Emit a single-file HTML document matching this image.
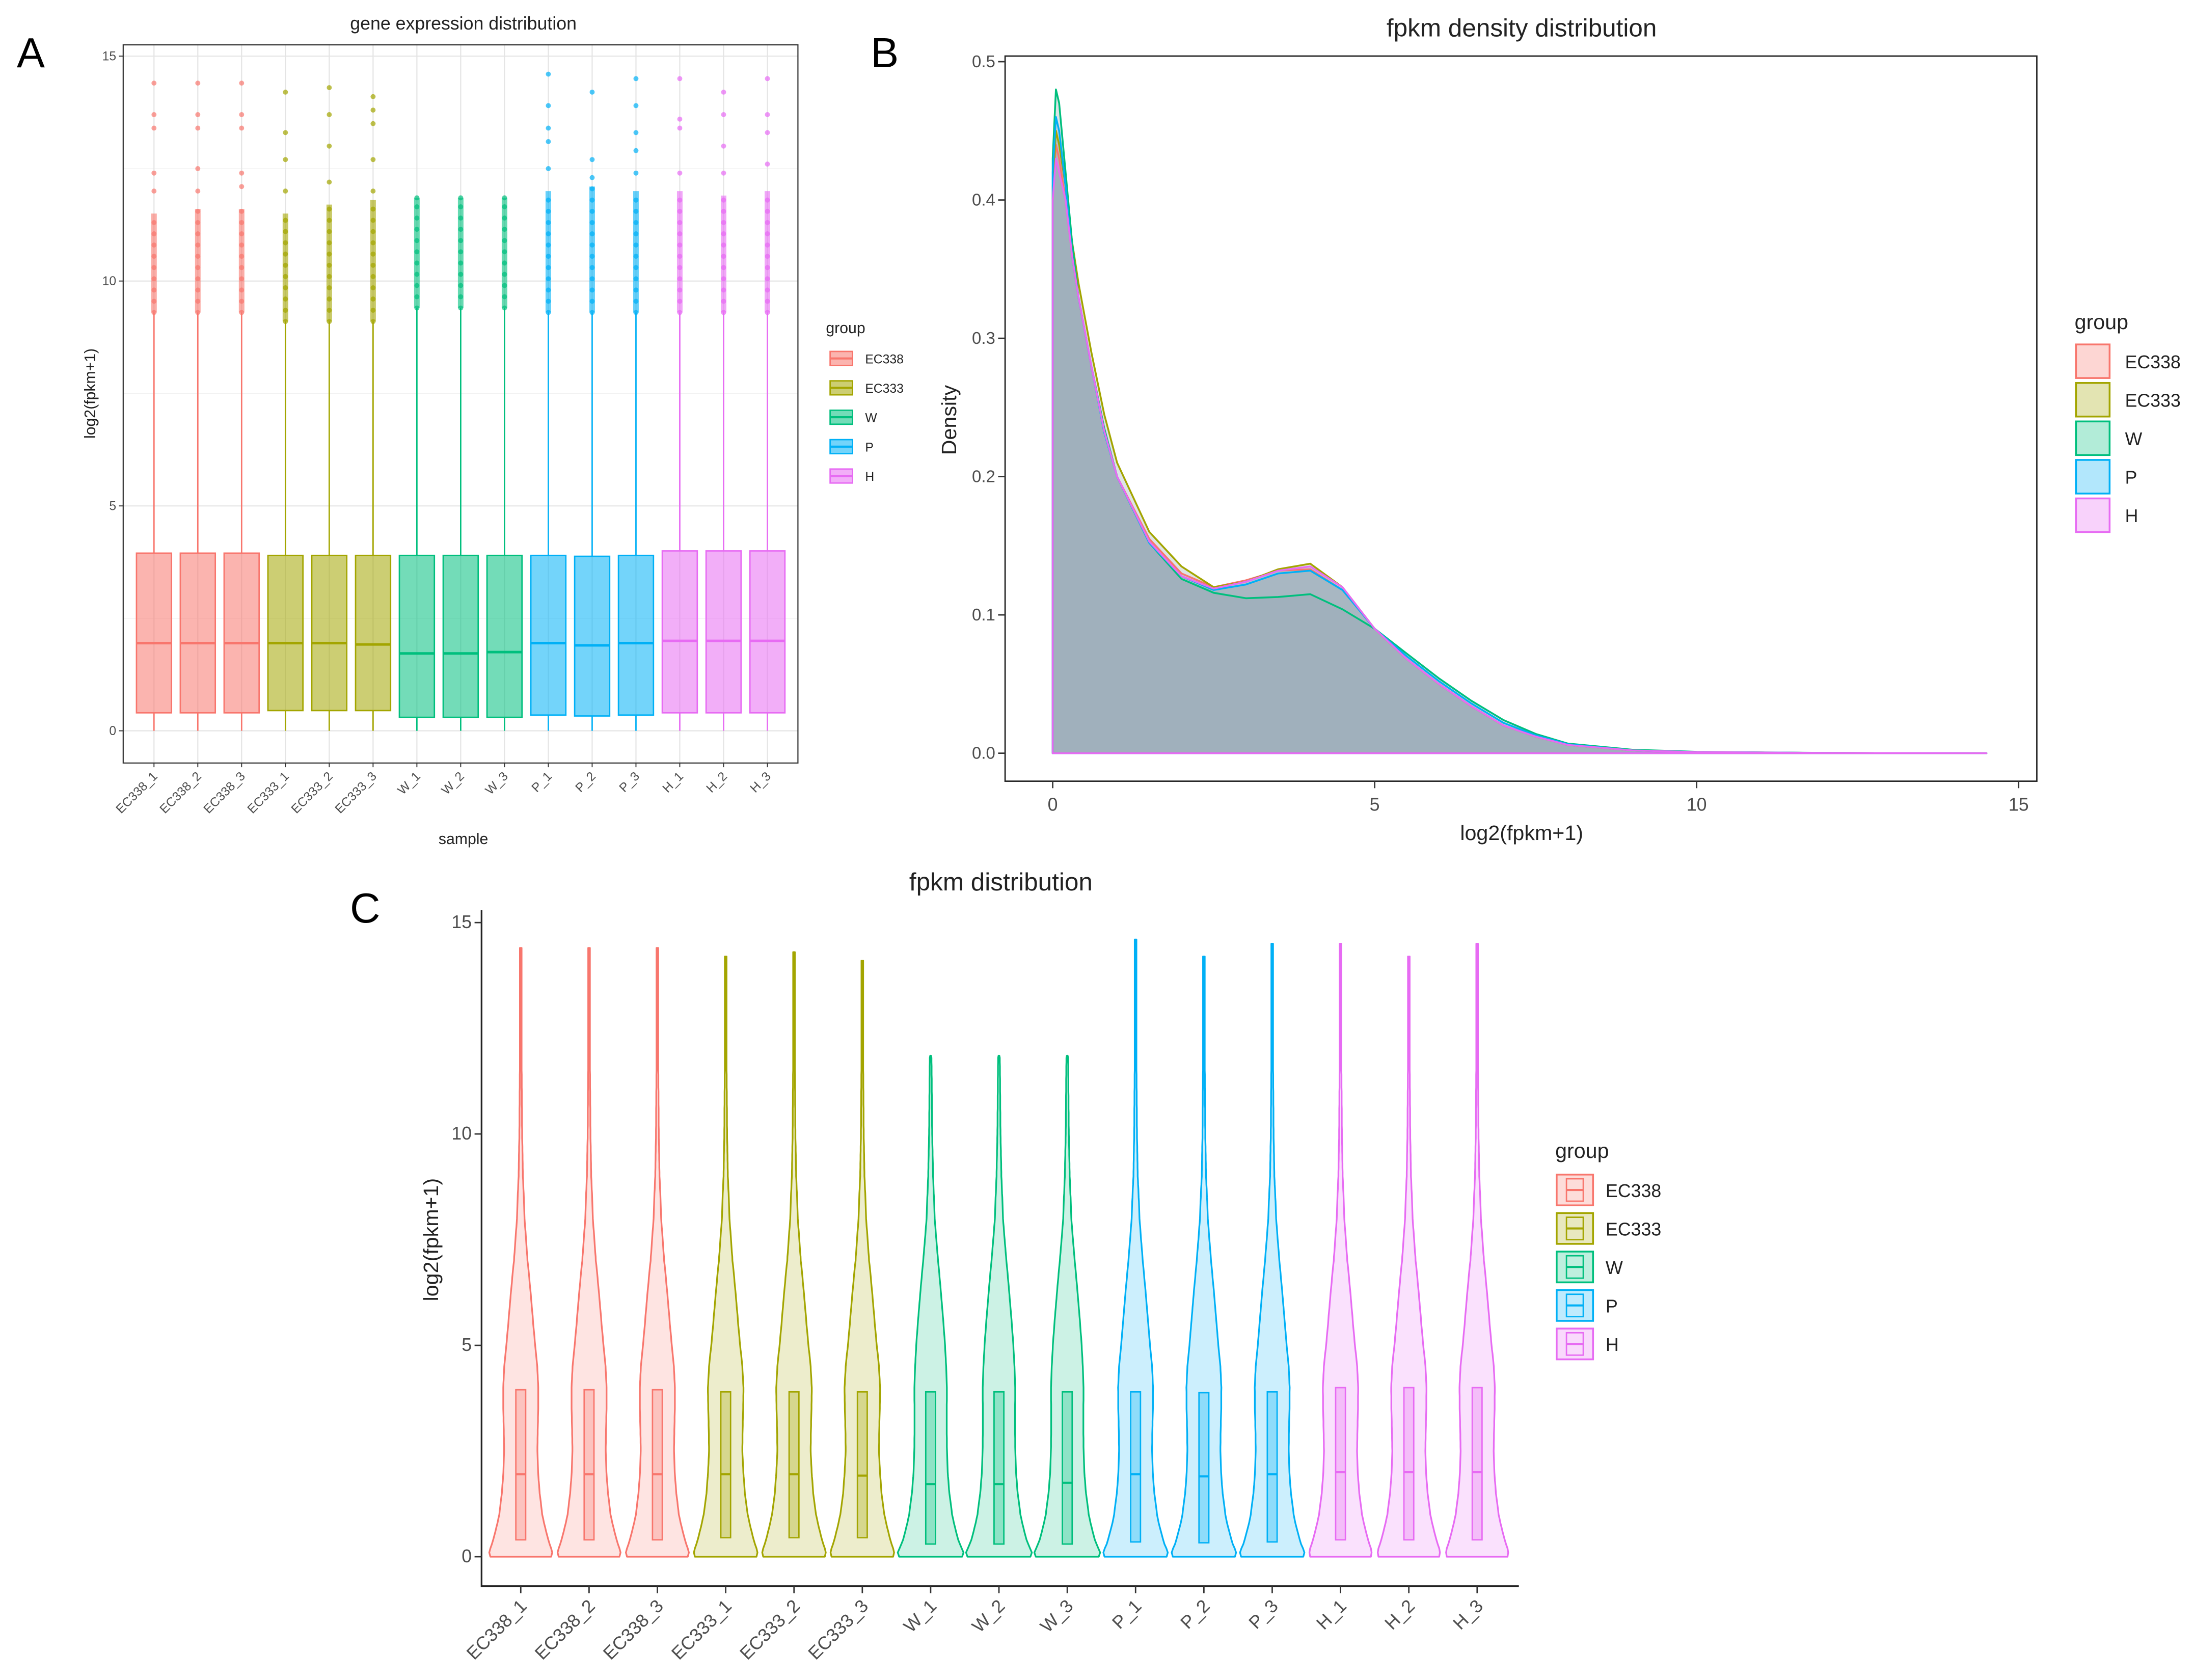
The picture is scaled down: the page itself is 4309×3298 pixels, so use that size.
<!DOCTYPE html>
<html><head><meta charset="utf-8"><style>
html,body{margin:0;padding:0;background:#fff}
svg{display:block}
text{font-family:"Liberation Sans",sans-serif}
</style></head><body>
<svg id="fig" xmlns="http://www.w3.org/2000/svg" width="4309" height="3298" viewBox="0 0 1568 1200">
<rect width="1568" height="1200" fill="#fff"/>
<g id="pa"></g>
<g id="pb"></g>
<g id="pc"></g>
</svg>
<script>
const samples=["EC338_1","EC338_2","EC338_3","EC333_1","EC333_2","EC333_3","W_1","W_2","W_3","P_1","P_2","P_3","H_1","H_2","H_3"];
const sampleGroup=[0,0,0,1,1,1,2,2,2,3,3,3,4,4,4];
const groups=["EC338","EC333","W","P","H"];
const colors=["#F8766D","#A3A500","#00BF7D","#00B0F6","#E76BF3"];
const q1=[0.4,0.4,0.4,0.45,0.45,0.45,0.3,0.3,0.3,0.35,0.33,0.35,0.4,0.4,0.4];
const med=[1.95,1.95,1.95,1.95,1.95,1.92,1.72,1.72,1.75,1.95,1.9,1.95,2.0,2.0,2.0];
const q3=[3.95,3.95,3.95,3.9,3.9,3.9,3.9,3.9,3.9,3.9,3.88,3.9,4.0,4.0,4.0];
const whiskerHi=[9.3,9.3,9.3,9.1,9.1,9.1,9.4,9.4,9.4,9.3,9.3,9.3,9.3,9.3,9.3];
const maxVal=[14.4,14.4,14.4,14.2,14.3,14.1,11.85,11.85,11.85,14.6,14.2,14.5,14.5,14.2,14.5];
const outlierMid=[11.5,11.6,11.6,11.5,11.7,11.8,11.85,11.85,11.85,12.0,12.1,12.0,12.0,11.9,12.0];
const sparseOutliers=[[12.0,12.4,13.4,13.7],[12.0,12.5,13.4,13.7],[12.1,12.4,13.4,13.7],[12.0,12.7,13.3],[12.2,13.0,13.7],[12.0,12.7,13.5,13.8],[],[],[],[12.5,13.1,13.4,13.9],[12.3,12.7],[12.4,12.9,13.3,13.9],[12.4,13.4,13.6],[12.4,13.0,13.7],[12.6,13.3,13.7]];
const densX=[0,0.05,0.1,0.2,0.3,0.4,0.6,0.8,1,1.5,2,2.5,3,3.5,4,4.5,5,5.5,6,6.5,7,7.5,8,9,10,12,14.5];
const densEC338=[0.40,0.44,0.43,0.40,0.36,0.33,0.28,0.235,0.20,0.155,0.13,0.12,0.125,0.132,0.133,0.118,0.09,0.068,0.05,0.034,0.02,0.012,0.006,0.002,0.0008,0.0002,0];
const densEC333=[0.41,0.45,0.44,0.41,0.37,0.34,0.29,0.245,0.21,0.16,0.135,0.12,0.124,0.133,0.137,0.12,0.09,0.068,0.05,0.034,0.02,0.012,0.006,0.002,0.0008,0.0002,0];
const densW=[0.43,0.48,0.47,0.42,0.37,0.33,0.28,0.235,0.20,0.152,0.126,0.116,0.112,0.113,0.115,0.104,0.09,0.072,0.054,0.038,0.024,0.014,0.007,0.0025,0.001,0.0002,0];
const densP=[0.42,0.46,0.45,0.41,0.36,0.33,0.28,0.232,0.20,0.152,0.128,0.118,0.122,0.13,0.132,0.118,0.09,0.07,0.052,0.036,0.022,0.013,0.0065,0.002,0.0008,0.0002,0];
const densH=[0.40,0.43,0.42,0.40,0.36,0.33,0.28,0.233,0.20,0.153,0.128,0.119,0.124,0.132,0.135,0.12,0.09,0.068,0.05,0.034,0.02,0.012,0.006,0.002,0.0008,0.0002,0];
const densAll=[densEC338,densEC333,densW,densP,densH];
const yTicks=[0,5,10,15];
const bXTicks=[0,5,10,15];
const bYTicks=[0,0.1,0.2,0.3,0.4,0.5];

const NS="http://www.w3.org/2000/svg";
function mk(parent,tag,attrs,txt){const e=document.createElementNS(NS,tag);for(const k in attrs)e.setAttribute(k,attrs[k]);if(txt!==undefined)e.textContent=txt;parent.appendChild(e);return e;}

// ---------- Panel A ----------
const A=document.getElementById('pa');
const axL=88,axR=570,axT=32,axB=545;
const ayA=v=>522-v*32.13;
const axA=i=>110+i*31.3;
let t=mk(A,'text',{x:12,y:48,'font-size':30},'A');

t=mk(A,'text',{x:331,y:21,'font-size':13,'text-anchor':'middle',fill:'#222'},'gene expression distribution');

// grid
for(let v=0;v<=15;v+=2.5){let g=mk(A,'line',{x1:axL,x2:axR,y1:ayA(v),y2:ayA(v),stroke:v%5==0?'#e4e4e4':'#f2f2f2','stroke-width':v%5==0?0.8:0.5});}
samples.forEach((s,i)=>{let g=mk(A,'line',{x1:axA(i),x2:axA(i),y1:axT,y2:axB,stroke:'#e4e4e4','stroke-width':0.8});});
let fr=mk(A,'rect',{x:axL,y:axT,width:axR-axL,height:axB-axT,fill:'none',stroke:'#333','stroke-width':0.8});

yTicks.forEach(v=>{let l=mk(A,'line',{x1:axL-3,x2:axL,y1:ayA(v),y2:ayA(v),stroke:'#333','stroke-width':0.7});
 let tx=mk(A,'text',{x:axL-5,y:ayA(v)+3,'font-size':9,'text-anchor':'end',fill:'#4d4d4d'},v);});
t=mk(A,'text',{x:0,y:0,'font-size':11,'text-anchor':'middle',transform:`translate(68,${ayA(7.5)}) rotate(-90)`,fill:'#222'},'log2(fpkm+1)');

t=mk(A,'text',{x:331,y:603,'font-size':11,'text-anchor':'middle',fill:'#222'},'sample');

samples.forEach((s,i)=>{
 const c=colors[sampleGroup[i]],x=axA(i),w=25;
 let l=mk(A,'line',{x1:x,x2:x,y1:axB,y2:axB+3,stroke:'#333','stroke-width':0.7});
 let tx=mk(A,'text',{x:0,y:0,'font-size':9,'text-anchor':'end',fill:'#4d4d4d',transform:`translate(${x+3},${axB+10}) rotate(-45)`},s);
 const g=mk(A,'g',{});
 mk(g,'line',{x1:x,x2:x,y1:ayA(0),y2:ayA(q1[i]),stroke:c,'stroke-width':1});
 mk(g,'line',{x1:x,x2:x,y1:ayA(q3[i]),y2:ayA(whiskerHi[i]),stroke:c,'stroke-width':1});
 mk(g,'rect',{x:x-w/2,y:ayA(q3[i]),width:w,height:ayA(q1[i])-ayA(q3[i]),fill:c,'fill-opacity':0.55,stroke:c,'stroke-width':1});
 mk(g,'line',{x1:x-w/2,x2:x+w/2,y1:ayA(med[i]),y2:ayA(med[i]),stroke:c,'stroke-width':1.8});
 // dense outlier band
 mk(g,'line',{x1:x,x2:x,y1:ayA(whiskerHi[i]),y2:ayA(outlierMid[i]),stroke:c,'stroke-width':4,'stroke-opacity':0.6});
 for(let v=whiskerHi[i];v<=outlierMid[i];v+=0.25) mk(g,'circle',{cx:x,cy:ayA(v),r:1.8,fill:c,'fill-opacity':0.7});
 sparseOutliers[i].concat([maxVal[i]]).forEach(v=>mk(g,'circle',{cx:x,cy:ayA(v),r:1.8,fill:c,'fill-opacity':0.7}));
});
// legend A
t=mk(A,'text',{x:590,y:238,'font-size':11,fill:'#222'},'group');
groups.forEach((gname,k)=>{const y=256+k*21;const g=mk(A,'g',{});
 mk(g,'rect',{x:593,y:y-5,width:16,height:10,fill:colors[k],'fill-opacity':0.55,stroke:colors[k]});
 mk(g,'line',{x1:593,x2:609,y1:y,y2:y,stroke:colors[k],'stroke-width':1.5});
 mk(g,'text',{x:618,y:y+3.5,'font-size':9,fill:'#222'},gname);});

// ---------- Panel B ----------
const B=document.getElementById('pb');
const bx=v=>752+v*46, by=v=>538-v*988;
t=mk(B,'text',{x:622,y:48,'font-size':30},'B');
t=mk(B,'text',{x:1087,y:26,'font-size':18,'text-anchor':'middle',fill:'#222'},'fpkm density distribution');
fr=mk(B,'rect',{x:718,y:40,width:737,height:518,fill:'none',stroke:'#222','stroke-width':1});
bXTicks.forEach(v=>{let l=mk(B,'line',{x1:bx(v),x2:bx(v),y1:558,y2:563,stroke:'#333'});
 let tx=mk(B,'text',{x:bx(v),y:579,'font-size':13,'text-anchor':'middle',fill:'#4d4d4d'},v);});
bYTicks.forEach(v=>{let l=mk(B,'line',{x1:713,x2:718,y1:by(v),y2:by(v),stroke:'#333'});
 let tx=mk(B,'text',{x:711,y:by(v)+4,'font-size':12,'text-anchor':'end',fill:'#4d4d4d'},v.toFixed(1));});
t=mk(B,'text',{x:1087,y:600,'font-size':15,'text-anchor':'middle',fill:'#222'},'log2(fpkm+1)');
t=mk(B,'text',{x:0,y:0,'font-size':15,'text-anchor':'middle',fill:'#222',transform:'translate(683,300) rotate(-90)'},'Density');
densAll.forEach((d,k)=>{
 let p='M'+bx(0)+','+by(0);densX.forEach((x,j)=>p+=' L'+bx(x).toFixed(1)+','+by(d[j]).toFixed(1));p+=' L'+bx(densX[densX.length-1])+','+by(0)+'Z';
 const a=mk(B,'path',{d:p,fill:'#8fa3ae','fill-opacity':0.3,stroke:'none'});
});
densAll.forEach((d,k)=>{
 let p='M'+bx(0)+','+by(0);densX.forEach((x,j)=>p+=' L'+bx(x).toFixed(1)+','+by(d[j]).toFixed(1));p+=' L'+bx(densX[densX.length-1])+','+by(0)+'Z';
 const a=mk(B,'path',{d:p,fill:'none',stroke:colors[k],'stroke-width':1.3,'stroke-linejoin':'round'});
});
t=mk(B,'text',{x:1482,y:235,'font-size':15,fill:'#222'},'group');
groups.forEach((gname,k)=>{const y=258+k*27.5;const g=mk(B,'g',{});
 mk(g,'rect',{x:1483,y:y-12,width:24,height:24,fill:colors[k],'fill-opacity':0.3,stroke:colors[k],'stroke-width':1.3});
 mk(g,'text',{x:1518,y:y+5,'font-size':13,fill:'#222'},gname);});

// ---------- Panel C ----------
const C=document.getElementById('pc');
const cy=v=>1112-v*30.2, cx=i=>372+i*48.8;
t=mk(C,'text',{x:250,y:659,'font-size':30},'C');
t=mk(C,'text',{x:715,y:636,'font-size':18,'text-anchor':'middle',fill:'#222'},'fpkm distribution');
let ax=mk(C,'path',{d:'M344,650 L344,1133 L1085,1133',fill:'none',stroke:'#222','stroke-width':1.2});
yTicks.forEach(v=>{let l=mk(C,'line',{x1:339,x2:344,y1:cy(v),y2:cy(v),stroke:'#333'});
 let tx=mk(C,'text',{x:337,y:cy(v)+4,'font-size':13,'text-anchor':'end',fill:'#4d4d4d'},v);});
t=mk(C,'text',{x:0,y:0,'font-size':15,'text-anchor':'middle',fill:'#222',transform:`translate(313,${cy(7.5)}) rotate(-90)`},'log2(fpkm+1)');
samples.forEach((s,i)=>{
 const k=sampleGroup[i],c=colors[k],x=cx(i),d=densAll[k];
 let l=mk(C,'line',{x1:x,x2:x,y1:1133,y2:1138,stroke:'#333'});
 let tx=mk(C,'text',{x:0,y:0,'font-size':13,'text-anchor':'end',fill:'#4d4d4d',transform:`translate(${x+5},${1148}) rotate(-45)`},s);
 const hw=v=>{let j=0;while(j<densX.length-1&&densX[j+1]<v)j++;const x0=densX[j],x1=densX[Math.min(j+1,densX.length-1)];const f=x1>x0?(v-x0)/(x1-x0):0;const dv=d[j]+(d[Math.min(j+1,d.length-1)]-d[j])*Math.max(0,Math.min(1,f));return Math.max(0.6,Math.sqrt(dv/0.45)*23);};
 const pts=[];for(let v=0;v<=maxVal[i];v+=0.1)pts.push([v,hw(v)]);pts.push([maxVal[i],0.3]);
 let p='M'+x+','+cy(0);pts.forEach(q=>p+=' L'+(x+q[1]).toFixed(1)+','+cy(q[0]).toFixed(1));
 for(let j=pts.length-1;j>=0;j--)p+=' L'+(x-pts[j][1]).toFixed(1)+','+cy(pts[j][0]).toFixed(1);p+='Z';
 const g=mk(C,'g',{});
 mk(g,'path',{d:p,fill:c,'fill-opacity':0.2,stroke:c,'stroke-width':1.2,'stroke-linejoin':'round'});
 mk(g,'rect',{x:x-3.5,y:cy(q3[i]),width:7,height:cy(q1[i])-cy(q3[i]),fill:c,'fill-opacity':0.3,stroke:c,'stroke-width':1});
 mk(g,'line',{x1:x-3.5,x2:x+3.5,y1:cy(med[i]),y2:cy(med[i]),stroke:c,'stroke-width':1.5});
});
t=mk(C,'text',{x:1111,y:827,'font-size':15,fill:'#222'},'group');
groups.forEach((gname,k)=>{const y=850+k*27.5;const g=mk(C,'g',{});
 mk(g,'rect',{x:1112,y:y-11,width:26,height:22,fill:colors[k],'fill-opacity':0.25,stroke:colors[k],'stroke-width':1.3});
 mk(g,'rect',{x:1119,y:y-8,width:12,height:16,fill:'none',stroke:colors[k],'stroke-width':1});
 mk(g,'line',{x1:1119,x2:1131,y1:y,y2:y,stroke:colors[k],'stroke-width':1.5});
 mk(g,'text',{x:1147,y:y+5,'font-size':13,fill:'#222'},gname);});
</script>
</body></html>
